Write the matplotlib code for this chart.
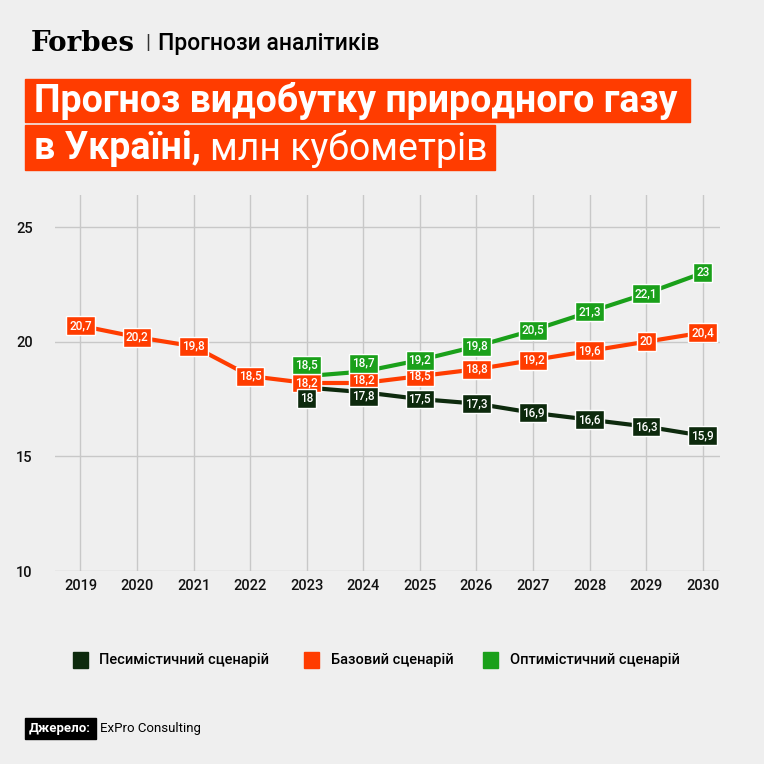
import numpy as np
import matplotlib.pyplot as plt
import matplotlib.patches as mpatches

plt.rcParams['font.family'] = ['Roboto', 'DejaVu Sans']

years = list(range(2019, 2031))
base = [20.7, 20.2, 19.8, 18.5, 18.2, 18.2, 18.5, 18.8, 19.2, 19.6, 20.0, 20.4]
pess_years = list(range(2023, 2031))
pess = [18.0, 17.8, 17.5, 17.3, 16.9, 16.6, 16.3, 15.9]
opt = [18.5, 18.7, 19.2, 19.8, 20.5, 21.3, 22.1, 23.0]

c_pess = '#0d2a0d'
c_base = '#ff3c00'
c_opt = '#1aa01a'
bg = '#efefef'

def fmt(v):
    s = ('%.1f' % v).replace('.', ',')
    return s[:-2] if s.endswith(',0') else s

fig = plt.figure(figsize=(7.64, 7.64), dpi=100, facecolor=bg)
ax = fig.add_axes([0.072, 0.2526, 0.87, 0.4922], facecolor=bg)
ax.set_xlim(2018.55, 2030.3)
ax.set_ylim(10, 26.4)
ax.set_yticks([10, 15, 20, 25])
ax.set_xticks(years)
ax.grid(True, color='#c8c8c8', lw=1)
ax.set_axisbelow(True)
for s in ax.spines.values():
    s.set_visible(False)
ax.tick_params(length=0, labelsize=10.5, colors='#111111', pad=6)
for lab in ax.get_xticklabels() + ax.get_yticklabels():
    lab.set_fontweight('medium')
for lab in ax.get_yticklabels():
    lab.set_horizontalalignment('left')
ax.tick_params(axis='y', pad=28)

# small label shifts (points) where boxes would collide
shift = {('opt', 2023): 8, ('pess', 2023): -8,
         ('opt', 2024): 6, ('base', 2024): 2, ('pess', 2024): -3}
for name, xs, ys, c in [('base', years, base, c_base), ('pess', pess_years, pess, c_pess),
                        ('opt', pess_years, opt, c_opt)]:
    ax.plot(xs, ys, color=c, lw=3, zorder=3)
    for x, y in zip(xs, ys):
        ax.annotate(fmt(y), (x, y), xytext=(0, shift.get((name, x), 0)), textcoords='offset points',
                    ha='center', va='center', color='white', fontsize=8.5,
                    fontweight='medium', zorder=5,
                    bbox=dict(boxstyle='square,pad=0.25', fc=c, ec='white', lw=1))

# header
fig.text(0.04, 0.943, 'Forbes', fontsize=20, fontweight='bold', family='DejaVu Serif', va='center')
fig.text(0.19, 0.943, '|', fontsize=15, va='center', color='#333333')
fig.text(0.207, 0.943, 'Прогнози аналітиків', fontsize=16.5, fontweight='medium', va='center')
fig.patches.append(mpatches.Rectangle((0.033, 0.840), 0.87, 0.056, transform=fig.transFigure, color=c_base))
fig.patches.append(mpatches.Rectangle((0.033, 0.778), 0.615, 0.058, transform=fig.transFigure, color=c_base))
fig.text(0.045, 0.868, 'Прогноз видобутку природного газу', fontsize=27, fontweight='bold', color='white', va='center')
t1 = fig.text(0.045, 0.805, 'в Україні,', fontsize=27, fontweight='bold', color='white', va='center')
fig.canvas.draw()
bb = t1.get_window_extent().transformed(fig.transFigure.inverted())
fig.text(bb.x1 + 0.012, 0.805, 'млн кубометрів', fontsize=27, color='white', va='center')

# legend
for x, c, t in [(0.095, c_pess, 'Песимістичний сценарій'), (0.398, c_base, 'Базовий сценарій'),
                (0.632, c_opt, 'Оптимістичний сценарій')]:
    fig.patches.append(mpatches.Rectangle((x, 0.126), 0.02, 0.02, transform=fig.transFigure, color=c))
    fig.text(x + 0.035, 0.136, t, fontsize=10.5, fontweight='medium', va='center')

fig.patches.append(mpatches.Rectangle((0.033, 0.033), 0.093, 0.027, transform=fig.transFigure, color='black'))
fig.text(0.037, 0.046, 'Джерело:', fontsize=9.5, fontweight='bold', color='white', va='center')
fig.text(0.131, 0.046, 'ExPro Consulting', fontsize=9.5, va='center')

fig.savefig('out.png', dpi=100, facecolor=bg)
